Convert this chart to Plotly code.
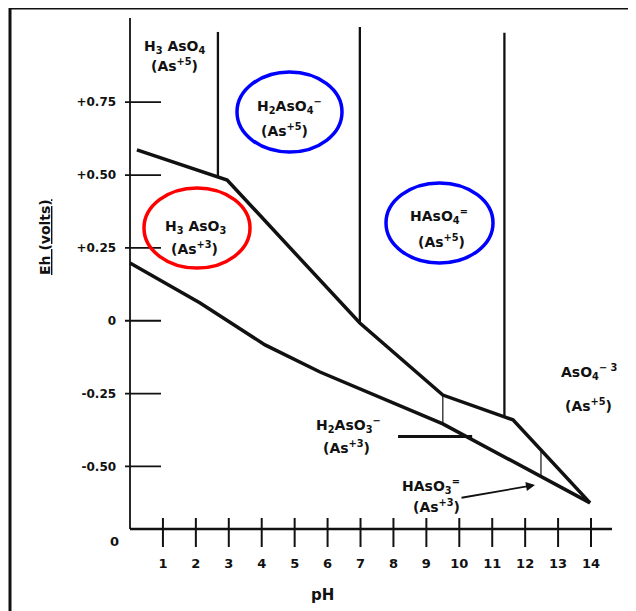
import plotly.graph_objects as go

# ---------------- data (pH, Eh in volts) ----------------
upper_ph = [0.21, 2.67, 2.95, 6.98, 9.50, 11.37, 11.63, 13.97]
upper_eh = [0.586, 0.493, 0.483, -0.008, -0.255, -0.330, -0.340, -0.625]

lower_ph = [0.0, 2.13, 4.10, 5.77, 9.50, 13.97]
lower_eh = [0.198, 0.061, -0.083, -0.176, -0.354, -0.625]

vert_ph = [2.67, 6.98, 11.37]
vert_top = [0.991, 1.008, 0.988]
vert_bottom = [0.493, -0.008, -0.330]

short_ph = [9.50, 12.48]
short_top = [-0.255, -0.450]
short_bottom = [-0.354, -0.529]

h2aso3_ph = [8.14, 10.39]
h2aso3_eh = [-0.397, -0.397]

x_ticks = list(range(1, 15))
y_ticks = [0.75, 0.50, 0.25, 0.0, -0.25, -0.50]
y_ticktext = ["+0.75", "+0.50", "+0.25", "0", "-0.25", "-0.50"]

# ---------------- geometry helpers (layout only) ----------------
OFF = 8  # page body margin
W, H = 636 - OFF, 611 - OFF
X0PX, PXPH = 130.0, 32.93
YC, PXV = 284.3, 291.4


def ph_of(px):
    return (px - X0PX) / PXPH


def eh_of(py):
    return 0.125 - (py - YC) / PXV


def paper_x(px):
    return (px - OFF) / W


def paper_y(py):
    return (H - (py - OFF)) / H


xr = [-0.3, 14.7]
yr = [eh_of(550), eh_of(15)]
xdom = [paper_x(X0PX + xr[0] * PXPH), paper_x(X0PX + xr[1] * PXPH)]
ydom = [paper_y(550), paper_y(15)]

FONT = "DejaVu Sans, sans-serif"
BLACK = "#111111"

fig = go.Figure()

# main boundaries
fig.add_trace(go.Scatter(x=upper_ph, y=upper_eh, mode="lines",
                         line=dict(color=BLACK, width=3.5), hoverinfo="skip"))
fig.add_trace(go.Scatter(x=lower_ph, y=lower_eh, mode="lines",
                         line=dict(color=BLACK, width=3.5), hoverinfo="skip"))
for p, t, b in zip(vert_ph, vert_top, vert_bottom):
    fig.add_trace(go.Scatter(x=[p, p], y=[t, b], mode="lines",
                             line=dict(color=BLACK, width=2.3), hoverinfo="skip"))
for p, t, b in zip(short_ph, short_top, short_bottom):
    fig.add_trace(go.Scatter(x=[p, p], y=[t, b], mode="lines",
                             line=dict(color=BLACK, width=1.2), hoverinfo="skip"))
fig.add_trace(go.Scatter(x=h2aso3_ph, y=h2aso3_eh, mode="lines",
                         line=dict(color=BLACK, width=3), hoverinfo="skip"))

# axis lines
y_axis_bottom = eh_of(529)
y_axis_top = eh_of(18)
fig.add_trace(go.Scatter(x=[0, 0], y=[y_axis_top, y_axis_bottom], mode="lines",
                         line=dict(color=BLACK, width=1.8), hoverinfo="skip"))
fig.add_trace(go.Scatter(x=[0, ph_of(612)], y=[y_axis_bottom, y_axis_bottom], mode="lines",
                         line=dict(color=BLACK, width=2.5), hoverinfo="skip"))

shapes = []
# crossing tick marks
for v in y_ticks:
    shapes.append(dict(type="line", xref="x", yref="y", x0=ph_of(125), x1=ph_of(161),
                       y0=v, y1=v, line=dict(color=BLACK, width=1.8)))
for p in x_ticks:
    shapes.append(dict(type="line", xref="x", yref="y", x0=p, x1=p,
                       y0=eh_of(518), y1=eh_of(547), line=dict(color=BLACK, width=2)))

# ellipses
ellipses = [
    (237, 342, 72, 152, "#0000ff"),
    (144, 250, 188, 268, "#ff0000"),
    (386, 493, 183, 263, "#0000ff"),
]
for x0, x1, y0, y1, c in ellipses:
    shapes.append(dict(type="circle", xref="x", yref="y", x0=ph_of(x0), x1=ph_of(x1),
                       y0=eh_of(y1), y1=eh_of(y0), line=dict(color=c, width=3.5)))

# frame
shapes.append(dict(type="line", xref="paper", yref="paper", x0=paper_x(10), x1=1,
                   y0=paper_y(8), y1=paper_y(8), line=dict(color=BLACK, width=3)))
shapes.append(dict(type="line", xref="paper", yref="paper", x0=paper_x(10), x1=paper_x(10),
                   y0=paper_y(8), y1=0, line=dict(color=BLACK, width=3)))

# species labels (text, centre px, centre py)
labels = [
    ("H<sub>3</sub> AsO<sub>4</sub>", 175, 47),
    ("(As<sup>+5</sup>)", 174, 65),
    ("H<sub>2</sub>AsO<sub>4</sub><sup>−</sup>", 289, 106),
    ("(As<sup>+5</sup>)", 284, 130),
    ("H<sub>3</sub> AsO<sub>3</sub>", 196, 227),
    ("(As<sup>+3</sup>)", 194, 248),
    ("HAsO<sub>4</sub><sup>=</sup>", 439, 216),
    ("(As<sup>+5</sup>)", 441, 241),
    ("AsO<sub>4</sub><sup>− 3</sup>", 589, 372),
    ("(As<sup>+5</sup>)", 588, 405),
    ("H<sub>2</sub>AsO<sub>3</sub><sup>−</sup>", 348, 425),
    ("(As<sup>+3</sup>)", 346, 447),
    ("HAsO<sub>3</sub><sup>=</sup>", 431, 486),
    ("(As<sup>+3</sup>)", 436, 506),
]
annotations = []
for txt, cx, cy in labels:
    annotations.append(dict(text=txt, x=ph_of(cx), y=eh_of(cy), xref="x", yref="y",
                            showarrow=False, font=dict(family=FONT, size=14, color=BLACK,
                                                       weight="bold"),
                            xanchor="center", yanchor="middle"))

# arrow to HAsO3= field
annotations.append(dict(text="", x=ph_of(535), y=eh_of(485), ax=ph_of(460), ay=eh_of(498),
                        xref="x", yref="y", axref="x", ayref="y", showarrow=True,
                        arrowhead=2, arrowsize=1, arrowwidth=1.8, arrowcolor=BLACK))

# origin "0", axis titles
annotations.append(dict(text="0", x=paper_x(114), y=paper_y(541), xref="paper", yref="paper",
                        xanchor="center", yanchor="middle", showarrow=False,
                        font=dict(family=FONT, size=13, color=BLACK, weight="bold")))
annotations.append(dict(text="pH", x=paper_x(322), y=paper_y(595), xref="paper", yref="paper",
                        xanchor="center", yanchor="middle", showarrow=False,
                        font=dict(family=FONT, size=15, color=BLACK, weight="bold")))
annotations.append(dict(text='<span style="text-decoration:underline">Eh (volts)</span>',
                        x=paper_x(45), y=paper_y(237), xref="paper", yref="paper",
                        xanchor="center", yanchor="middle",
                        textangle=-90, showarrow=False,
                        font=dict(family=FONT, size=14, color=BLACK, weight="bold")))

fig.update_layout(
    width=W, height=H,
    margin=dict(l=0, r=0, t=0, b=0),
    paper_bgcolor="white", plot_bgcolor="white",
    showlegend=False,
    shapes=shapes, annotations=annotations,
    xaxis=dict(range=xr, domain=xdom, tickvals=x_ticks, ticks="", showgrid=False,
               zeroline=False, showline=False, automargin=False, ticklabelstandoff=4,
               tickfont=dict(family=FONT, size=13, color=BLACK, weight="bold")),
    yaxis=dict(range=yr, domain=ydom, tickvals=y_ticks, ticktext=y_ticktext, ticks="",
               showgrid=False, zeroline=False, showline=False, automargin=False,
               ticklabelstandoff=3,
               tickfont=dict(family=FONT, size=12, color=BLACK, weight="bold")),
)

fig.write_html("out.html")
